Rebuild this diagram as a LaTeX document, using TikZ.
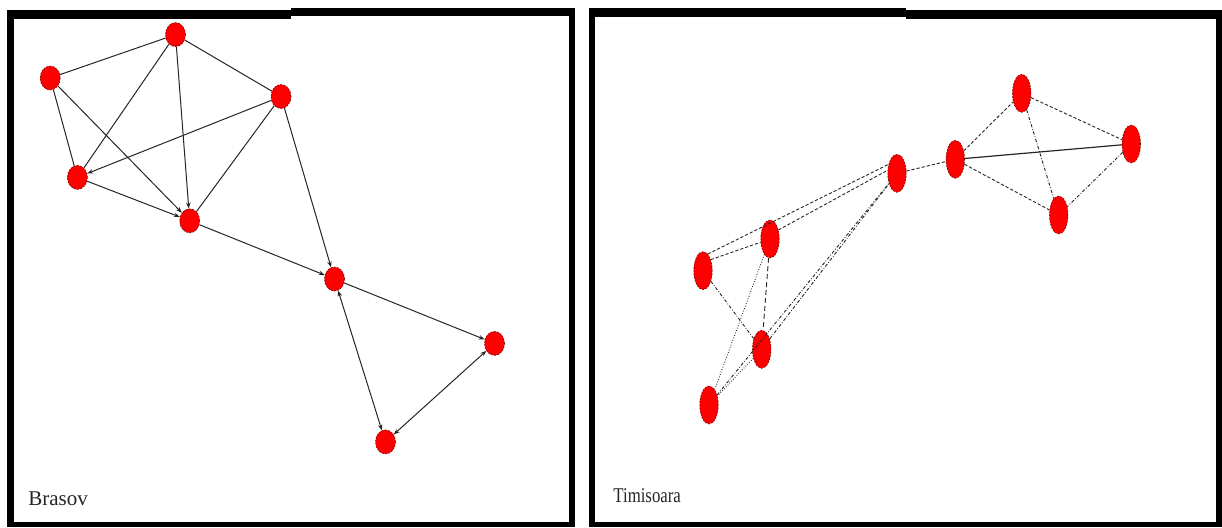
\documentclass[tikz,border=0pt]{standalone}
\usepackage{fontspec}
\setmainfont{Liberation Serif}
\usetikzlibrary{shapes.geometric,arrows.meta}
\begin{document}
\begin{tikzpicture}[x=0.5pt,y=-0.5pt,
  lnode/.style={ellipse,fill=red,draw=red!50!black,line width=0.3pt,dash pattern=on 1pt off 0.6pt,minimum width=10pt,minimum height=12pt,inner sep=0pt},
  rnode/.style={lnode,minimum width=9.2pt,minimum height=19pt},
  lk/.style={draw=black!85,line width=0.5pt},
  arr/.style={-{Stealth[length=3pt,width=2.2pt]}},
  darr/.style={{Stealth[length=3pt,width=2.2pt]}-{Stealth[length=3pt,width=2.2pt]}},
  dsh/.style={draw=black!85,line width=0.45pt,dash pattern=on 1.6pt off 1pt},
  dshdot/.style={draw=black!85,line width=0.45pt,dash pattern=on 1.6pt off 0.9pt on 0.4pt off 0.9pt},
  dotl/.style={draw=black!85,line width=0.45pt,dash pattern=on 0.4pt off 0.9pt},
  frm/.style={fill=black},
  lbl/.style={anchor=base west,inner sep=0pt,text=black!85,font=\fontsize{10.5}{12}\selectfont}
]
\useasboundingbox (0,0) rectangle (1222,527);
\fill[white] (0,0) rectangle (1222,527);

% frames
\fill[frm] (7,10) rectangle (14,527);
\fill[frm] (7,10) rectangle (291,19);
\fill[frm] (291,8) rectangle (575,16);
\fill[frm] (569,8) rectangle (575,527);
\fill[frm] (7,522) rectangle (575,527);
\fill[frm] (589,8) rectangle (595,527);
\fill[frm] (589,8) rectangle (906,17);
\fill[frm] (906,10) rectangle (1222,19);
\fill[frm] (1216,10) rectangle (1222,527);
\fill[frm] (589,522) rectangle (1222,527);

% left graph nodes
\node[lnode] (A) at (175.5,34.6) {};
\node[lnode] (B) at (50.2,78) {};
\node[lnode] (C) at (281,96.5) {};
\node[lnode] (D) at (77.4,177.4) {};
\node[lnode] (E) at (189.7,220.8) {};
\node[lnode] (F) at (334.5,279) {};
\node[lnode] (G) at (494.5,343.4) {};
\node[lnode] (H) at (385.5,441.9) {};

\draw[lk] (B) -- (A);
\draw[lk] (B) -- (D);
\draw[lk,arr] (B) -- (E);
\draw[lk] (A) -- (D);
\draw[lk,arr] (A) -- (E);
\draw[lk] (A) -- (C);
\draw[lk,arr] (C) -- (D);
\draw[lk] (C) -- (E);
\draw[lk,arr] (C) -- (F);
\draw[lk,arr] (D) -- (E);
\draw[lk,arr] (E) -- (F);
\draw[lk,arr] (F) -- (G);
\draw[lk,darr] (F) -- (H);
\draw[lk,darr] (G) -- (H);

% right graph nodes
\node[rnode] (R1) at (703,270.7) {};
\node[rnode] (R2) at (770,239) {};
\node[rnode] (R3) at (761.7,349.3) {};
\node[rnode] (R4) at (709,405) {};
\node[rnode] (R5) at (897,173.3) {};
\node[rnode] (R6) at (955.3,159.3) {};
\node[rnode] (R7) at (1021.7,93.3) {};
\node[rnode] (R8) at (1131.3,144) {};
\node[rnode] (R9) at (1058.7,215) {};

\draw[dsh] (R1.74) -- (R5.133);
\draw[dsh] (R1.55) -- (R2);
\draw[dsh] (R2.47) -- (R5.162);
\draw[dshdot] (R1) -- (R3);
\draw[dsh,dash pattern=on 2.5pt off 1.5pt] (R2) -- (R3);
\draw[dotl] (R2) -- (R4);
\draw[dshdot] (R4) -- (R5);
\draw[dshdot] (R3) -- (R5);
\draw[dotl] (R3) -- (R4);
\draw[dsh] (R5) -- (R6);
\draw[dsh] (R6) -- (R7);
\draw[lk,line width=0.6pt] (R6) -- (R8);
\draw[dsh] (R6) -- (R9);
\draw[dsh] (R7) -- (R8);
\draw[dshdot] (R7) -- (R9);
\draw[dshdot] (R8) -- (R9);

% labels
\node[lbl] (t1) at (28,505) {Brasov};
\node[lbl] (t2) at (613,502) {\scalebox{0.8}[1]{Timisoara}};
\end{tikzpicture}
\end{document}
